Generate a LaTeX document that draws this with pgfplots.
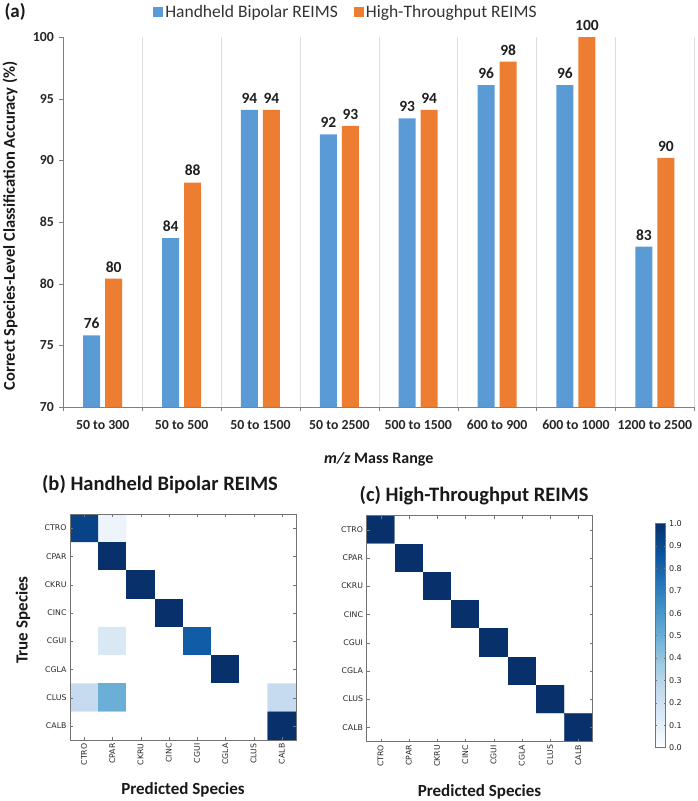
\documentclass[border=0pt]{standalone}
\usepackage{pgfplots}
\usepackage{pgfplotstable}
\pgfplotsset{compat=1.18}
\usepackage{fontspec}
\setmainfont{Carlito}
\newfontfamily\dejavu{DejaVu Sans}
\definecolor{hbBlue}{HTML}{5B9BD5}
\definecolor{htOrange}{HTML}{ED7D31}
\pgfplotsset{colormap={mplblues}{rgb255=(255,255,255) rgb255=(222,235,247) rgb255=(198,219,239) rgb255=(158,202,225) rgb255=(107,174,214) rgb255=(66,146,198) rgb255=(33,113,181) rgb255=(8,81,156) rgb255=(8,48,107)}}

% accuracy data (category index, value)
\pgfplotstableread[row sep=\\]{
x y\\ 0 75.8\\ 1 83.7\\ 2 94.1\\ 3 92.1\\ 4 93.4\\ 5 96.1\\ 6 96.1\\ 7 83.0\\
}\handheld
\pgfplotstableread[row sep=\\]{
x y\\ 0 80.4\\ 1 88.2\\ 2 94.1\\ 3 92.8\\ 4 94.1\\ 5 98.0\\ 6 100\\ 7 90.2\\
}\highthr

% confusion matrix, handheld bipolar (x = predicted, y = true)
\pgfplotstableread[row sep=\\]{
x y z\\
0 0 0.93\\ 1 0 0.07\\ 2 0 0\\ 3 0 0\\ 4 0 0\\ 5 0 0\\ 6 0 0\\ 7 0 0\\
0 1 0\\ 1 1 1\\ 2 1 0\\ 3 1 0\\ 4 1 0\\ 5 1 0\\ 6 1 0\\ 7 1 0\\
0 2 0\\ 1 2 0\\ 2 2 1\\ 3 2 0\\ 4 2 0\\ 5 2 0\\ 6 2 0\\ 7 2 0\\
0 3 0\\ 1 3 0\\ 2 3 0\\ 3 3 1\\ 4 3 0\\ 5 3 0\\ 6 3 0\\ 7 3 0\\
0 4 0\\ 1 4 0.15\\ 2 4 0\\ 3 4 0\\ 4 4 0.83\\ 5 4 0\\ 6 4 0\\ 7 4 0\\
0 5 0\\ 1 5 0\\ 2 5 0\\ 3 5 0\\ 4 5 0\\ 5 5 1\\ 6 5 0\\ 7 5 0\\
0 6 0.25\\ 1 6 0.5\\ 2 6 0\\ 3 6 0\\ 4 6 0\\ 5 6 0\\ 6 6 0\\ 7 6 0.25\\
0 7 0\\ 1 7 0\\ 2 7 0\\ 3 7 0\\ 4 7 0\\ 5 7 0\\ 6 7 0\\ 7 7 1\\
}\matB

% confusion matrix, high-throughput
\pgfplotstableread[row sep=\\]{
x y z\\
0 0 1\\ 1 0 0\\ 2 0 0\\ 3 0 0\\ 4 0 0\\ 5 0 0\\ 6 0 0\\ 7 0 0\\
0 1 0\\ 1 1 1\\ 2 1 0\\ 3 1 0\\ 4 1 0\\ 5 1 0\\ 6 1 0\\ 7 1 0\\
0 2 0\\ 1 2 0\\ 2 2 1\\ 3 2 0\\ 4 2 0\\ 5 2 0\\ 6 2 0\\ 7 2 0\\
0 3 0\\ 1 3 0\\ 2 3 0\\ 3 3 1\\ 4 3 0\\ 5 3 0\\ 6 3 0\\ 7 3 0\\
0 4 0\\ 1 4 0\\ 2 4 0\\ 3 4 0\\ 4 4 1\\ 5 4 0\\ 6 4 0\\ 7 4 0\\
0 5 0\\ 1 5 0\\ 2 5 0\\ 3 5 0\\ 4 5 0\\ 5 5 1\\ 6 5 0\\ 7 5 0\\
0 6 0\\ 1 6 0\\ 2 6 0\\ 3 6 0\\ 4 6 0\\ 5 6 0\\ 6 6 1\\ 7 6 0\\
0 7 0\\ 1 7 0\\ 2 7 0\\ 3 7 0\\ 4 7 0\\ 5 7 0\\ 6 7 0\\ 7 7 1\\
}\matC

\pgfplotsset{
 hm/.style={
  scale only axis, width=226pt, height=226pt,
  xmin=-0.5, xmax=7.5, ymin=-0.5, ymax=7.5, y dir=reverse,
  enlargelimits=false, axis on top,
  xtick={0,...,7}, ytick={0,...,7},
  xticklabels={CTRO,CPAR,CKRU,CINC,CGUI,CGLA,CLUS,CALB},
  yticklabels={CTRO,CPAR,CKRU,CINC,CGUI,CGLA,CLUS,CALB},
  xticklabel style={rotate=90, anchor=east, font=\dejavu\fontsize{7.8}{9}\selectfont, text=black!85},
  yticklabel style={font=\dejavu\fontsize{7.8}{9}\selectfont, text=black!85},
  tick align=inside, major tick length=3pt, tick style={black!55},
  axis line style={black!55},
  colormap name=mplblues, point meta min=0, point meta max=1,
  xlabel={Predicted Species},
  xlabel style={font=\bfseries\fontsize{17}{20}\selectfont, text=black!90, at={(axis description cs:0.5,-0.221)}, anchor=center},
 }
}

\begin{document}
\begin{tikzpicture}
\useasboundingbox (0pt,0pt) rectangle (697pt,-801pt);

\node[anchor=west, font=\bfseries\fontsize{19}{22}\selectfont, text=black!90] at (1pt,-12pt) {(a)};

\begin{axis}[
  at={(63.3pt,-407pt)}, anchor=south west,
  scale only axis, width=631pt, height=370pt,
  ybar=5pt, bar width=17pt,
  xmin=-0.5, xmax=7.5, ymin=70, ymax=100,
  axis x line*=bottom, axis y line*=left,
  axis line style={black!50},
  xtick={0,...,7},
  xticklabels={50 to 300,50 to 500,50 to 1500,50 to 2500,500 to 1500,600 to 900,600 to 1000,1200 to 2500},
  major x tick style={draw=none},
  minor xtick={-0.5,0.5,1.5,2.5,3.5,4.5,5.5,6.5,7.5},
  xminorgrids, minor x grid style={black!13},
  ytick={70,75,...,100},
  tick align=outside, major tick length=4pt, minor tick length=4pt,
  tick style={black!50},
  xticklabel style={font=\bfseries\fontsize{13.8}{16}\selectfont, text=black!85, yshift=-6pt},
  yticklabel style={font=\bfseries\fontsize{13.8}{16}\selectfont, text=black!85, xshift=-2pt},
  /pgf/number format/assume math mode=true,
  ylabel={Correct Species-Level Classification Accuracy (\%)},
  ylabel style={font=\bfseries\fontsize{16.5}{19}\selectfont, text=black!90, at={(axis description cs:-0.0845,0.49)}, anchor=center},
  xlabel={\textit{m/z} Mass Range},
  xlabel style={font=\bfseries\fontsize{16}{19}\selectfont, text=black!90, at={(axis description cs:0.5,-0.1405)}, anchor=center},
  nodes near coords={\pgfmathprintnumber[fixed,precision=0,assume math mode=true]{\pgfplotspointmeta}},
  every node near coord/.append style={font=\bfseries\fontsize{15.5}{18}\selectfont, text=black!88, yshift=3pt},
  legend columns=2,
  legend style={at={(axis description cs:0.448,1.0676)}, anchor=center, draw=none, fill=none,
    font=\fontsize{17.5}{20}\selectfont, text=black!80,
    /tikz/every even column/.append style={column sep=14pt}},
  legend image code/.code={\fill[#1,draw=none] (0pt,-5pt) rectangle (10pt,5pt);},
]
\addplot[fill=hbBlue, draw=none] table[x=x,y=y] {\handheld};
\addplot[fill=htOrange, draw=none] table[x=x,y=y] {\highthr};
\legend{Handheld Bipolar REIMS, High-Throughput REIMS}
\end{axis}

\begin{axis}[hm,
  at={(183pt,-627pt)}, anchor=center,
  title={(b) Handheld Bipolar REIMS},
  title style={font=\bfseries\fontsize{20.5}{24}\selectfont, text=black!90, at={(axis description cs:0.398,1.106)}, anchor=center},
  ylabel={True Species},
  ylabel style={font=\bfseries\fontsize{17}{20}\selectfont, text=black!90, at={(axis description cs:-0.208,0.531)}, anchor=center},
]
\addplot[matrix plot*, mesh/cols=8, point meta=explicit] table[x=x, y=y, meta=z] {\matB};
\end{axis}

\begin{axis}[hm,
  at={(479.5pt,-628.5pt)}, anchor=center,
  title={(c) High-Throughput REIMS},
  title style={font=\bfseries\fontsize{20.5}{24}\selectfont, text=black!90, at={(axis description cs:0.476,1.062)}, anchor=center},
  colorbar,
  colorbar style={
    at={(parent axis.north east)}, anchor=north west, xshift=54pt, yshift=-8pt,
    scale only axis, width=10.5pt, height=224pt,
    ytick={0,0.1,0.2,0.3,0.4,0.5,0.6,0.7,0.8,0.9,1},
    yticklabel style={font=\dejavu\fontsize{8}{9}\selectfont, text=black!85,
      /pgf/number format/.cd, fixed, fixed zerofill, precision=1, assume math mode=true},
    axis line style={black!55}, tick style={black!55},
    major tick length=2pt, tick align=inside,
  },
]
\addplot[matrix plot*, mesh/cols=8, point meta=explicit] table[x=x, y=y, meta=z] {\matC};
\end{axis}
\end{tikzpicture}
\end{document}
